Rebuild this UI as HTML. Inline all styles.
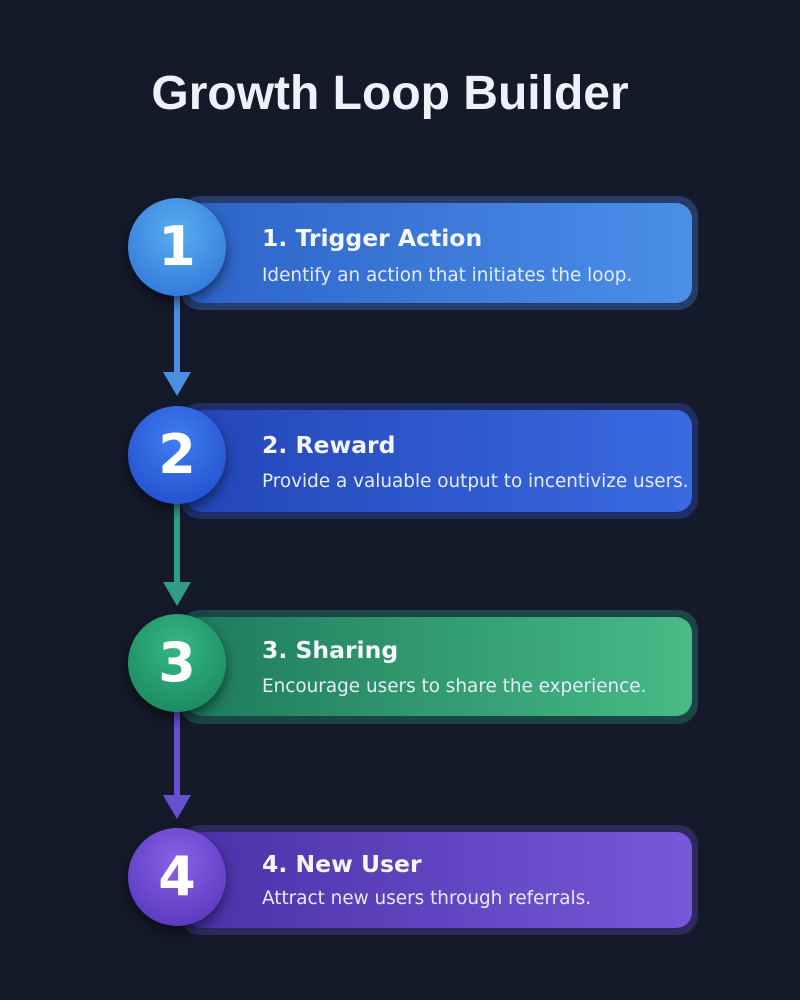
<!DOCTYPE html>
<html><head><style>
body{margin:0;width:800px;height:1000px;background:#141a2a;font-family:"Liberation Sans",sans-serif;position:relative;overflow:hidden}
.t{position:absolute;left:0;width:780px;top:66px;text-align:center;color:#eef1f7;font-size:48px;font-weight:bold}
.o{position:absolute;left:180px;width:518px;border-radius:20px}
.c{position:absolute;left:186px;width:506px;border-radius:16px}
.h{position:absolute;left:262px;color:#f4f6fb;font-size:23.5px;font-weight:bold;font-family:"DejaVu Sans",sans-serif}
.d{position:absolute;left:262px;color:#e6ecf7;font-size:18.4px;font-family:"DejaVu Sans",sans-serif}
.ci{position:absolute;left:128px;width:98px;height:98px;border-radius:50%;color:#fff;font-size:54px;font-weight:bold;text-align:center;line-height:98px;box-shadow:0 6px 12px rgba(0,0,0,.5);font-family:"DejaVu Sans",sans-serif}
</style></head><body>
<div class="t">Growth Loop Builder</div>
<svg width="800" height="1000" style="position:absolute;left:0;top:0">
<line x1="177" y1="290" x2="177" y2="385" stroke="#4a8fe0" stroke-width="6"/><polygon points="163,372 191,372 177,396" fill="#4a8fe0"/>
<line x1="177" y1="500" x2="177" y2="593" stroke="#2f9c86" stroke-width="6"/><polygon points="163,582 191,582 177,606" fill="#2f9c86"/>
<line x1="177" y1="710" x2="177" y2="806" stroke="#6650d0" stroke-width="6"/><polygon points="163,795 191,795 177,819" fill="#6650d0"/>
</svg>
<div class="o" style="top:196px;height:114px;background:#263c6a"></div>
<div class="c" style="top:203px;height:100px;background:linear-gradient(90deg,#2d63c8,#4b8fe8)"></div>
<div class="h" style="top:224px">1. Trigger Action</div><div class="d" style="top:265px">Identify an action that initiates the loop.</div>
<div class="ci" style="top:198px;background:radial-gradient(circle at 50% 35%,#5aaef0,#2a6fd6)">1</div>

<div class="o" style="top:403px;height:116px;background:#1f2f66"></div>
<div class="c" style="top:410px;height:102px;background:linear-gradient(90deg,#2346b8,#3a6ae0)"></div>
<div class="h" style="top:431px">2. Reward</div><div class="d" style="top:471px">Provide a valuable output to incentivize users.</div>
<div class="ci" style="top:406px;background:radial-gradient(circle at 50% 35%,#3f7ef0,#1f48c8)">2</div>

<div class="o" style="top:610px;height:114px;background:#1c4546"></div>
<div class="c" style="top:617px;height:99px;background:linear-gradient(90deg,#1e7a5c,#47bb86)"></div>
<div class="h" style="top:636px">3. Sharing</div><div class="d" style="top:676px">Encourage users to share the experience.</div>
<div class="ci" style="top:614px;background:radial-gradient(circle at 50% 35%,#36b886,#16805a)">3</div>

<div class="o" style="top:825px;height:110px;background:#2e2a5e"></div>
<div class="c" style="top:832px;height:96px;background:linear-gradient(90deg,#4a32a8,#7858d8)"></div>
<div class="h" style="top:850px">4. New User</div><div class="d" style="top:888px">Attract new users through referrals.</div>
<div class="ci" style="top:828px;background:radial-gradient(circle at 50% 35%,#8a62e8,#5030b8)">4</div>
</body></html>
